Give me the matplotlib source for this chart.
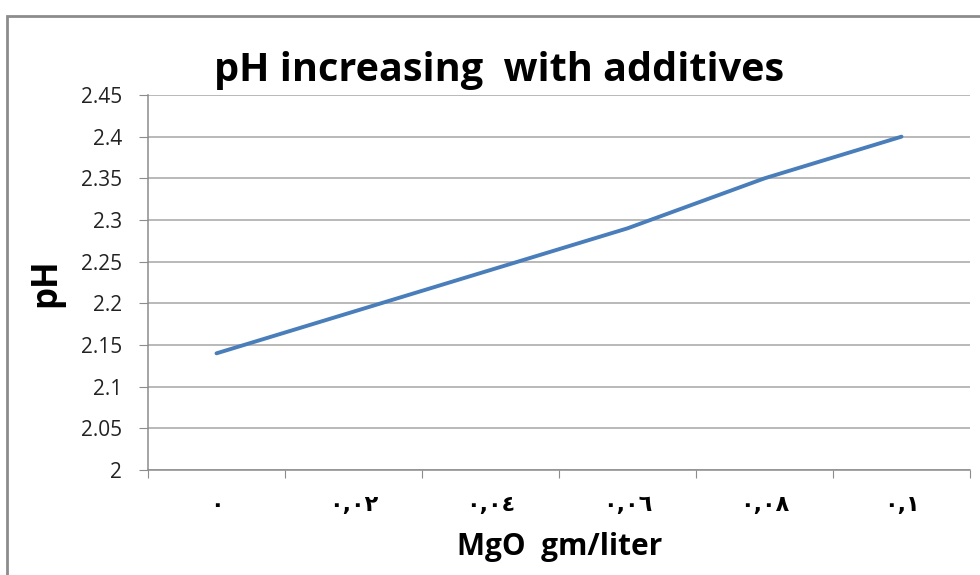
import matplotlib.pyplot as plt
from matplotlib.patches import Rectangle

# MgO dose (gm/liter) and measured pH
dose_labels = ['٠', '٠,٠٢', '٠,٠٤', '٠,٠٦', '٠,٠٨', '٠,١']
ph_values = [2.14, 2.19, 2.24, 2.29, 2.35, 2.40]
y_ticks = [2, 2.05, 2.1, 2.15, 2.2, 2.25, 2.3, 2.35, 2.4, 2.45]
y_tick_labels = ['2', '2.05', '2.1', '2.15', '2.2', '2.25', '2.3', '2.35', '2.4', '2.45']

plt.rcParams['font.family'] = ['Open Sans', 'DejaVu Sans']

fig = plt.figure(figsize=(9.8, 5.75), dpi=100)
ax = fig.add_axes([148 / 980, 1 - 470 / 575, (970 - 148) / 980, (470 - 95) / 575])

# outer chart frame (only left and top edges visible)
fig.patches.append(Rectangle((7 / 980, -0.2), 1.2, 1.2 - 16 / 575,
                             transform=fig.transFigure, fill=False,
                             edgecolor='#8c8c8c', linewidth=2))

x = list(range(len(ph_values)))
ax.plot(x, ph_values, color='#4a7ebb', linewidth=2.8, solid_capstyle='round', zorder=3)

ax.set_xlim(-0.5, len(ph_values) - 0.5)
ax.set_ylim(2, 2.45)
ax.set_yticks(y_ticks)
ax.set_yticklabels(y_tick_labels, fontsize=15, color='#222222')
ax.yaxis.grid(True, color='#a6a6a6', linewidth=1.1)
ax.set_axisbelow(True)

# ticks between categories, labels at centers
ax.set_xticks([i - 0.5 for i in range(len(ph_values) + 1)])
ax.set_xticklabels([])
ax.set_xticks(x, minor=True)
ax.set_xticklabels(dose_labels, minor=True, fontsize=16, fontweight='bold', family=['DejaVu Sans'])
ax.tick_params(axis='x', which='minor', length=0, pad=18)
ax.tick_params(axis='x', which='major', length=6, color='#8c8c8c')
ax.tick_params(axis='y', length=6.5, color='#8c8c8c', pad=12)

for s in ['top', 'right']:
    ax.spines[s].set_visible(False)
for s in ['left', 'bottom']:
    ax.spines[s].set_color('#8c8c8c')
    ax.spines[s].set_linewidth(1.1)

fig.text(499 / 980, 1 - 70 / 575, 'pH increasing  with additives', ha='center', va='center',
         fontsize=28.5, fontweight='bold')
fig.text(46 / 980, 1 - 283 / 575, 'pH', ha='center', va='center', rotation=90,
         fontsize=25, fontweight='bold')
fig.text(560 / 980, 1 - 547 / 575, 'MgO  gm/liter', ha='center', va='center',
         fontsize=21.5, fontweight='bold')

fig.savefig('out.png', dpi=100)
